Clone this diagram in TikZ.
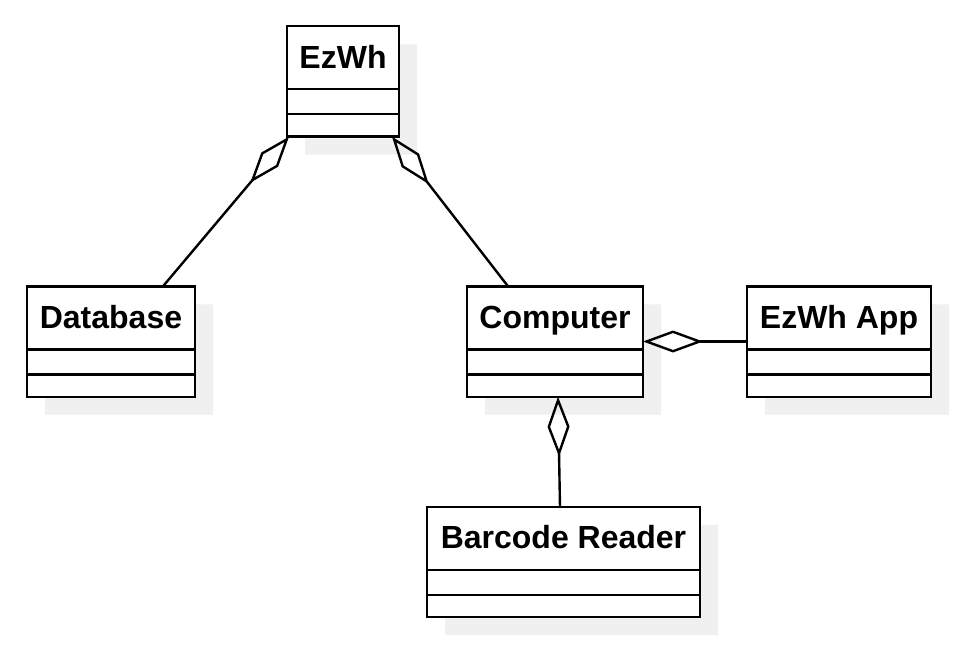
\documentclass[tikz,border=0pt]{standalone}
\usepackage{fontspec}
\setmainfont{Liberation Sans}
\usetikzlibrary{positioning,shapes.multipart,shadows,arrows.meta}

\newcommand{\classhead}[1]{\rule[-10pt]{0pt}{30.3pt}#1}
\newcommand{\classbody}{\nodepart{two}\vrule width 0pt height 11.3pt\kern1pt
  \nodepart{three}\vrule width 0pt height 10pt\kern1pt}

\begin{document}
\begin{tikzpicture}[
    umlclass/.style={rectangle split,rectangle split parts=3,draw,
      line width=1.2pt,fill=white,inner xsep=0pt,inner ysep=0pt,outer sep=0pt,
      font=\fontsize{16pt}{19pt}\selectfont\bfseries,
      drop shadow={shadow xshift=9pt,shadow yshift=-9pt,opacity=1,fill=black!6}},
    aggr/.style={line width=1.2pt,-{Diamond[open,length=30pt,width=11pt]}}]
  \useasboundingbox (0,0) rectangle (481.5pt,-331.5pt);
     \node[umlclass,minimum width=88pt] at (277.5pt,-170.75pt) (computer)
       {\classhead{Computer}\classbody};
     \node[umlclass,right of=computer,node distance=142pt,minimum
       width=92pt] (app) {\classhead{EzWh App}\classbody};
     \node[umlclass,left of=computer,node distance=222pt,minimum
       width=84pt] (database) {\classhead{Database}\classbody};
     \node[umlclass,below of=computer,node distance=110.25pt,xshift=4.25pt,
       minimum width=136.5pt] (barcode) {\classhead{Barcode Reader}\classbody};
     \node[umlclass,above of=computer,node distance=130pt,xshift=-106pt,
       minimum width=56pt] (ezwh) {\classhead{EzWh}\classbody};
     \draw[aggr] ([xshift=26pt]database.north) -- ([xshift=1pt]ezwh.south west);
     \draw[aggr] ([xshift=-23.5pt]computer.north) -- ([xshift=-3.5pt]ezwh.south east);
     \draw[aggr] (app.west) -- (computer.east);
     \draw[aggr] ([xshift=-1.75pt]barcode.north) -- ([xshift=1.5pt]computer.south);
   \end{tikzpicture}
\end{document}
